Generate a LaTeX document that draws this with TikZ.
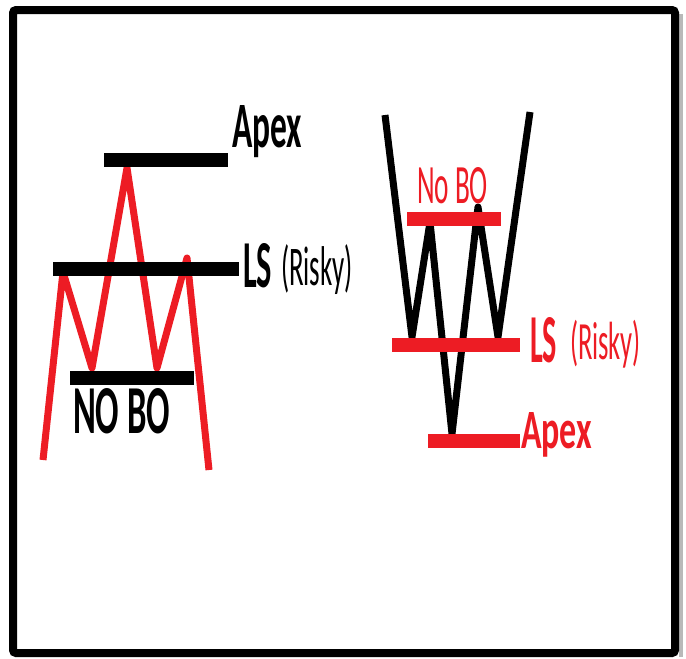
\documentclass[tikz,border=0pt]{standalone}
\usepackage{fontspec}
\setmainfont{Carlito}
\usepackage{graphicx}
\newdimen\px \px=0.75pt
\definecolor{pred}{HTML}{ED1C24}
\newcommand\fitb[3]{\resizebox{#1\px}{#2\px}{#3}}
\newcommand\fitt[3]{\resizebox*{#1\px}{#2\px}{#3}}
\tikzset{
  bar/.style={line width=14\px},
  zig/.style={line width=7\px, line join=round},
  lbl/.style={inner sep=0pt, outer sep=0pt},
}
\begin{document}
\begin{tikzpicture}[x=0.75pt, y=-0.75pt]
\fill[white] (0,0) rectangle (686,658);
\useasboundingbox (0,0) rectangle (686,658);
% frame shadow and frame
\draw[gray!55, line width=4\px] (681,14) -- (681,657);
\draw[line width=8\px, rounded corners=3\px] (13,10) rectangle (675,653);

% ---------- left figure (red zigzag, black bars) ----------
\coordinate (l0) at (43,460);
\coordinate (l1) at (63,272);
\coordinate (l2) at (92,368);
\coordinate (l3) at (127,168);
\coordinate (l4) at (157,368);
\coordinate (l5) at (187,258);
\coordinate (l6) at (209,470);
\draw[zig, pred] (l0) -- (l1) -- (l2) -- (l3) -- (l4) -- (l5) -- (l6);

\coordinate (la1) at (104,160); \coordinate (la2) at (228,160);
\coordinate (ll1) at (53,269);  \coordinate (ll2) at (239,269);
\coordinate (ln1) at (70,378);  \coordinate (ln2) at (194,378);
\draw[bar] (la1) -- (la2);
\draw[bar] (ll1) -- (ll2);
\draw[bar] (ln1) -- (ln2);

\node[lbl, anchor=base west] (lApex) at (232,147) {\fitb{70}{42}{\bfseries Apex}};
\node[lbl, anchor=base west] (lLS) at (243,287) {\fitb{29}{44}{\bfseries LS}};
\node[lbl, anchor=north west] (lRisky) at (281,245) {\fitt{72}{50}{(Risky)}};
\node[lbl, anchor=base west] (lNoBO) at (73,433) {\fitb{97}{45}{\bfseries NO BO}};

% ---------- right figure (black W, red bars) ----------
\coordinate (r0) at (385,115);
\coordinate (r1) at (412,337);
\coordinate (r2) at (430,222);
\coordinate (r3) at (452,434);
\coordinate (r4) at (478,207);
\coordinate (r5) at (498,337);
\coordinate (r6) at (530,112);
\draw[zig] (r0) -- (r1) -- (r2) -- (r3) -- (r4) -- (r5) -- (r6);

\coordinate (rn1) at (407,219); \coordinate (rn2) at (501,219);
\coordinate (rl1) at (392,345); \coordinate (rl2) at (520,345);
\coordinate (ra1) at (428,441); \coordinate (ra2) at (520,441);
\draw[bar, pred] (rn1) -- (rn2);
\draw[bar, pred] (rl1) -- (rl2);
\draw[bar, pred] (ra1) -- (ra2);

\node[lbl, anchor=base west, text=pred] (rNoBO) at (417,203) {\fitb{71}{36}{No BO}};
\node[lbl, anchor=base west, text=pred] (rLS) at (530,362) {\fitb{27}{45}{\bfseries LS}};
\node[lbl, anchor=north west, text=pred] (rRisky) at (570,320) {\fitt{71}{48}{(Risky)}};
\node[lbl, anchor=base west, text=pred] (rApex) at (521,448) {\fitb{71}{36}{\bfseries Apex}};
\end{tikzpicture}
\end{document}
